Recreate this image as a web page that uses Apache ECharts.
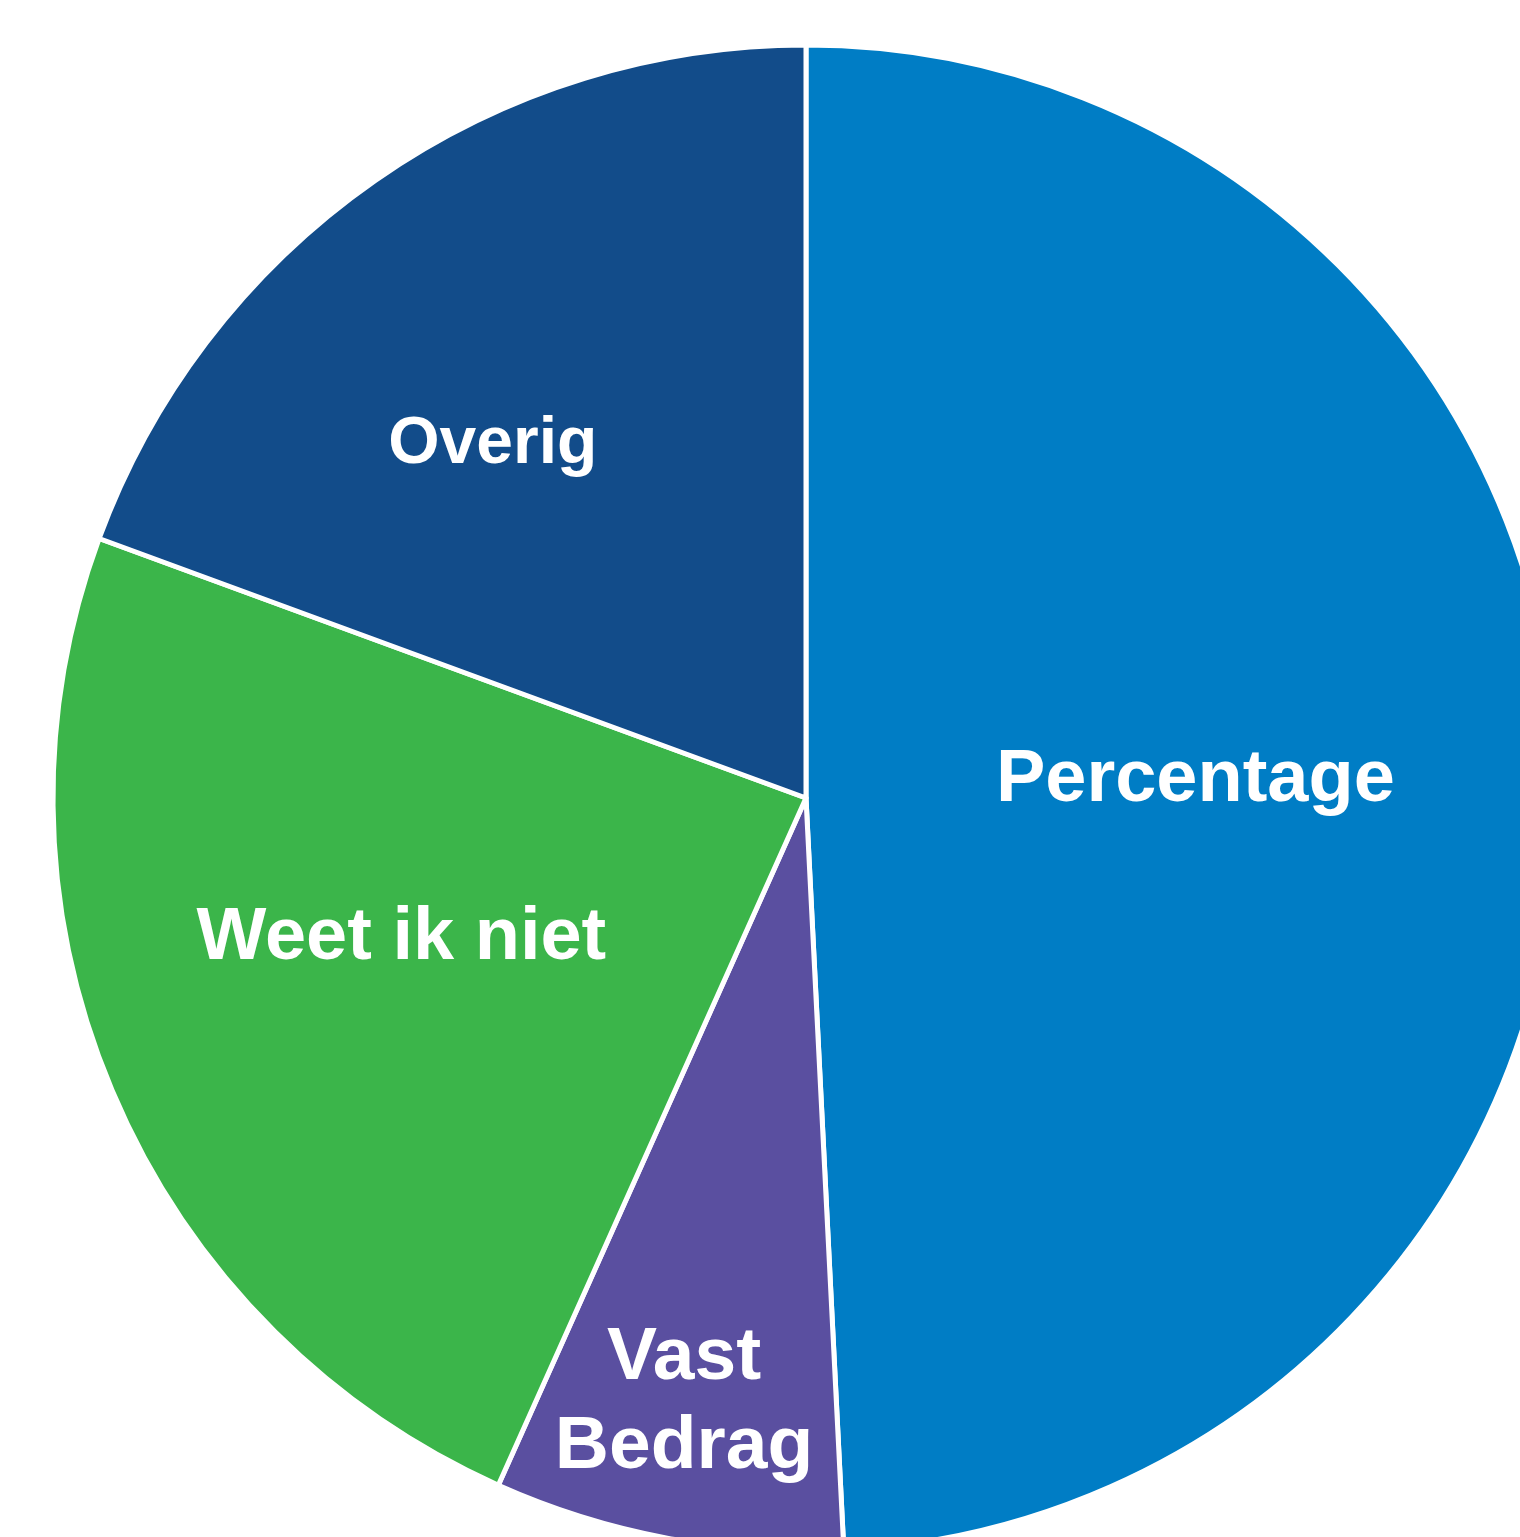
<!DOCTYPE html>
<html>
<head>
<meta charset="utf-8">
<script src="https://cdn.jsdelivr.net/npm/echarts@6/dist/echarts.min.js"></script>
<style>
  html, body { margin: 0; padding: 0; background: #fff; }
  #chart { width: 1520px; height: 1537px; }
</style>
</head>
<body>
<div id="chart"></div>
<script>
// slices clockwise from 12 o'clock
var categories = ['Percentage', 'Vast\nBedrag', 'Weet ik niet', 'Overig']
var values = [49.2, 7.5, 23.9, 19.4]
var colors = ['#007dc5', '#5a4fa0', '#3bb54a', '#124c8a']
var fontSizes = [74, 75, 74, 66]
// nudge of each label from the default inside spot
var labelShift = [[10, -8], [-52, 232], [-55, -7], [-96, -42]]

var chart = echarts.init(document.getElementById('chart'))

var data = categories.map((name, i) => ({
  name: name,
  value: values[i],
  itemStyle: { color: colors[i] },
  label: { fontSize: fontSizes[i], lineHeight: Math.round(fontSizes[i] * 1.19) }
}))

chart.setOption({
  animation: false,
  series: [{
    type: 'pie',
    center: [806, 798],
    radius: [0, 753],
    startAngle: 90,
    clockwise: true,
    avoidLabelOverlap: false,
    itemStyle: { borderColor: '#fff', borderWidth: 5 },
    label: {
      show: true,
      position: 'inside',
      formatter: '{b}',
      color: '#fff',
      fontWeight: 'bold',
      fontFamily: 'Liberation Sans, Arial, sans-serif'
    },
    labelLine: { show: false },
    labelLayout: params => ({
      dx: labelShift[params.dataIndex][0],
      dy: labelShift[params.dataIndex][1]
    }),
    emphasis: { disabled: true },
    data: data
  }]
})
</script>
</body>
</html>
